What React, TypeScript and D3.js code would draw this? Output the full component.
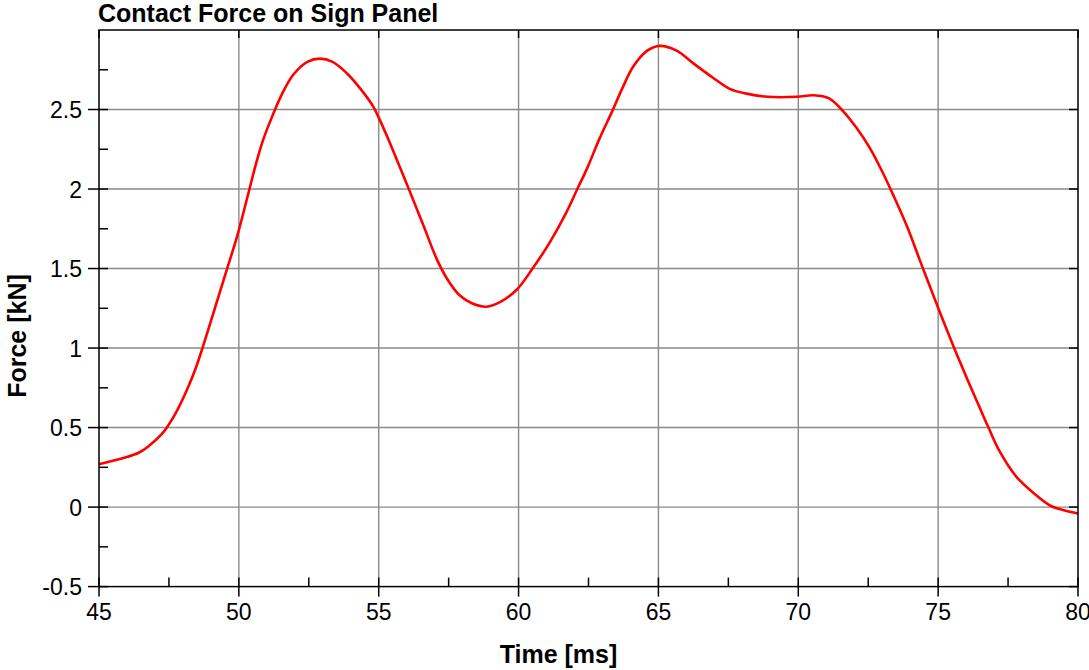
import React from "react";
import * as d3 from "d3";

const timeMs = [45.0, 45.25, 45.9, 46.4, 46.75, 47.25, 47.5, 47.8, 48.2, 48.45, 48.7, 49.0, 49.3, 49.6, 49.95, 50.35, 50.6, 50.85, 51.2, 51.55, 51.95, 52.45, 52.9, 53.35, 53.85, 54.35, 54.8, 55.05, 55.4, 55.75, 56.1, 56.6, 57.1, 57.5, 57.9, 58.35, 58.85, 59.35, 59.95, 60.5, 61.1, 61.7, 62.1, 62.45, 62.9, 63.35, 63.7, 64.1, 64.6, 65.05, 65.65, 66.25, 66.95, 67.55, 68.15, 68.9, 69.95, 70.55, 71.1, 71.6, 72.1, 72.55, 73.0, 73.4, 73.9, 74.35, 74.7, 75.05, 75.55, 76.05, 76.45, 76.8, 77.2, 77.8, 78.4, 79.0, 79.5, 80.0];
const forceKN = [0.27, 0.28, 0.31, 0.34, 0.38, 0.46, 0.52, 0.61, 0.76, 0.87, 1.0, 1.17, 1.34, 1.51, 1.71, 1.98, 2.15, 2.30, 2.46, 2.60, 2.72, 2.80, 2.82, 2.80, 2.73, 2.63, 2.52, 2.43, 2.29, 2.14, 1.99, 1.77, 1.55, 1.42, 1.33, 1.28, 1.26, 1.29, 1.37, 1.50, 1.66, 1.85, 2.0, 2.13, 2.32, 2.49, 2.63, 2.77, 2.87, 2.90, 2.87, 2.79, 2.70, 2.63, 2.60, 2.58, 2.58, 2.59, 2.57, 2.49, 2.38, 2.26, 2.11, 1.96, 1.76, 1.55, 1.39, 1.23, 1.01, 0.80, 0.64, 0.50, 0.35, 0.19, 0.09, 0.01, -0.02, -0.04];

const xTicks = [45, 50, 55, 60, 65, 70, 75, 80];
const xMinorTicks = [47.5, 52.5, 57.5, 62.5, 67.5, 72.5, 77.5];
const yTicks = [-0.5, 0, 0.5, 1, 1.5, 2, 2.5];
const yMinorTicks = [-0.25, 0.25, 0.75, 1.25, 1.75, 2.25, 2.75];

const title = "Contact Force on Sign Panel";
const xTitle = "Time [ms]";
const yTitle = "Force [kN]";

export default function App() {
  const W = 1089, H = 670;
  const left = 99, right = 1078, top = 30, bottom = 586.6;
  const x = d3.scaleLinear().domain([45, 80]).range([left, right]);
  const y = d3.scaleLinear().domain([-0.5, 3]).range([bottom, top]);
  const pts = timeMs.map((t, i) => [t, forceKN[i]] as [number, number]);
  const line = d3.line<[number, number]>().x(d => x(d[0])).y(d => y(d[1])).curve(d3.curveCatmullRom.alpha(0.5));
  const font = "'Liberation Sans', Arial, sans-serif";
  const grid = "#8a8a8a";
  return (
    <svg width={W} height={H} style={{ position: "absolute", left: 0, top: 0, background: "#fff" }} fontFamily={font}>
      <rect x={0} y={0} width={W} height={H} fill="#fff" />
      {xTicks.slice(1, -1).map(t => (
        <line key={"gx" + t} x1={x(t)} x2={x(t)} y1={top} y2={bottom} stroke={grid} strokeWidth={1.4} />
      ))}
      {yTicks.slice(1).map(t => (
        <line key={"gy" + t} x1={left} x2={right} y1={y(t)} y2={y(t)} stroke={grid} strokeWidth={1.4} />
      ))}
      <path d={line(pts) || ""} fill="none" stroke="#ff0000" strokeWidth={2.6} />
      <rect x={left} y={top} width={right - left} height={bottom - top} fill="none" stroke="#000" strokeWidth={1.5} />
      {xTicks.map(t => (
        <g key={"xt" + t}>
          <line x1={x(t)} x2={x(t)} y1={bottom - 9} y2={bottom + 10} stroke="#000" strokeWidth={1.5} />
          <line x1={x(t)} x2={x(t)} y1={top} y2={top + 8} stroke="#000" strokeWidth={1.5} />
          <text x={x(t)} y={620} textAnchor="middle" fontSize={23} fill="#000">{t}</text>
        </g>
      ))}
      {xMinorTicks.map(t => (
        <line key={"xm" + t} x1={x(t)} x2={x(t)} y1={bottom - 9} y2={bottom} stroke="#000" strokeWidth={1.5} />
      ))}
      {yTicks.map(t => (
        <g key={"yt" + t}>
          <line x1={left - 11} x2={left + 9} y1={y(t)} y2={y(t)} stroke="#000" strokeWidth={1.5} />
          <line x1={right - 9} x2={right} y1={y(t)} y2={y(t)} stroke="#000" strokeWidth={1.5} />
          <text x={82} y={y(t) + 8.5} textAnchor="end" fontSize={23} fill="#000">{t}</text>
        </g>
      ))}
      {yMinorTicks.map(t => (
        <line key={"ym" + t} x1={left} x2={left + 9} y1={y(t)} y2={y(t)} stroke="#000" strokeWidth={1.5} />
      ))}
      <text x={98} y={22} fontSize={25} fontWeight="bold" fill="#000">{title}</text>
      <text x={558.5} y={663} textAnchor="middle" fontSize={25} fontWeight="bold" fill="#000">{xTitle}</text>
      <text transform="translate(26,336) rotate(-90)" textAnchor="middle" fontSize={25} fontWeight="bold" fill="#000">{yTitle}</text>
    </svg>
  );
}
